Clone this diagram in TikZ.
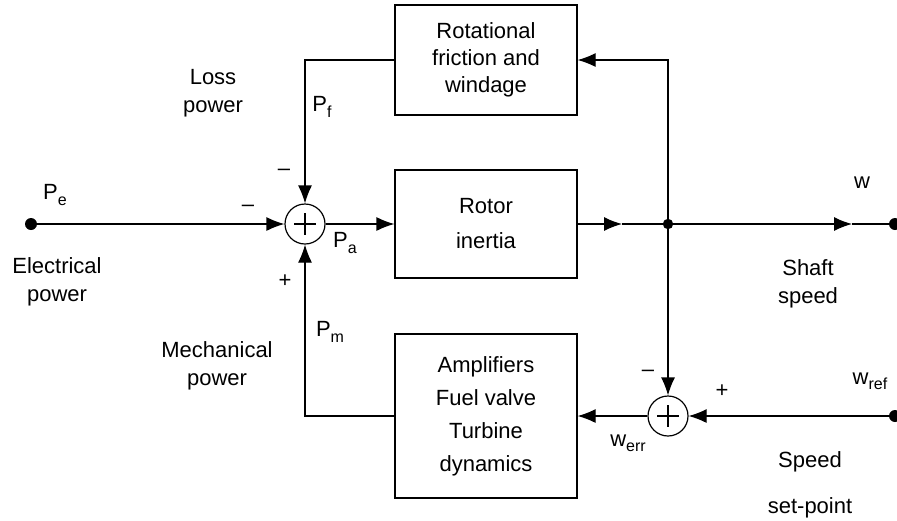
\documentclass[tikz,border=0pt]{standalone}
\usepackage{fontspec}
\setmainfont{Liberation Sans}
\usetikzlibrary{arrows.meta}
\newcommand{\sig}[2]{#1\raisebox{-0.45ex}{\fontsize{8}{8}\selectfont #2}}

\begin{document}
\begin{tikzpicture}[x=0.5pt,y=-0.5pt,font=\fontsize{11}{14}\selectfont,
  blockbox/.style={draw,line width=0.6pt,minimum width=91pt,align=center,inner sep=0pt},
  sumnode/.style={draw,circle,line width=0.6pt,minimum size=20pt,inner sep=0pt},
  flow/.style={line width=0.6pt,-{Latex[length=9pt,width=7pt]}},
  wire/.style={line width=0.6pt},
  lbl/.style={inner sep=0pt,align=center}]
\useasboundingbox (0,0) rectangle (897,520);

\coordinate (Pe) at (31,224);
\coordinate (A1) at (622,224);
\coordinate (B) at (668,224);
\coordinate (A2) at (852,224);
\coordinate (W) at (895,224);
\coordinate (Wref) at (895,416);

\node [sumnode] (S1) at (305,224) {};
\node [sumnode] (S2) at (668,416) {};
\node [blockbox,minimum height=55pt,font=\fontsize{11}{13.5}\selectfont] (F) at (486,60) {Rotational\\friction and\\windage};
\node [blockbox,minimum height=54pt,font=\fontsize{11}{17.5}\selectfont] (R) at (486,224) {Rotor\\inertia};
\node [blockbox,minimum height=82pt,font=\fontsize{11}{16.5}\selectfont] (T) at (486,416) {Amplifiers\\Fuel valve\\Turbine\\dynamics};

\draw [wire] (S1.center) +(-11,0) -- +(11,0);
\draw [wire] (S1.center) +(0,-11) -- +(0,11);
\draw [wire] (S2.center) +(-11,0) -- +(11,0);
\draw [wire] (S2.center) +(0,-11) -- +(0,11);

\draw [flow] (Pe) to (S1);
\draw [flow] (S1) to (R);
\draw [flow] (R) to (A1);
\draw [wire] (A1) to (B);
\draw [flow] (B) to (A2);
\draw [wire] (A2) to (W);
\draw [flow] (B) |- (F.east);
\draw [flow] (F.west) -| (S1.north);
\draw [flow] (B) to (S2);
\draw [flow] (Wref) to (S2);
\draw [flow] (S2) to (T);
\draw [flow] (T.west) -| (S1.south);

\fill (Pe) circle [radius=3pt];
\fill (B) circle [radius=2.6pt];
\fill (W) circle [radius=3pt];
\fill (Wref) circle [radius=3pt];

\node [lbl] (loss) at (213,93) {Loss\\power};
\node [lbl] (pf) at (322,107) {\sig{P}{f}};
\node [lbl] (m1) at (284,172) {--};
\node [lbl] (pe) at (55,195) {\sig{P}{e}};
\node [lbl] (m2) at (248,208) {--};
\node [lbl] (pa) at (345,243) {\sig{P}{a}};
\node [lbl] (w) at (862,183) {w};
\node [lbl] (elec) at (57,282) {Electrical\\power};
\node [lbl] (p1) at (285,281) {+};
\node [lbl] (pm) at (330,332) {\sig{P}{m}};
\node [lbl] (mech) at (217,366) {Mechanical\\power};
\node [lbl] (shaft) at (808,284) {Shaft\\speed};
\node [lbl] (m3) at (648,373) {--};
\node [lbl] (p2) at (722,391) {+};
\node [lbl] (wref) at (870,381) {\sig{w}{ref}};
\node [lbl] (werr) at (628,443) {\sig{w}{err}};
\node [lbl] (speed) at (810,462) {Speed};
\node [lbl] (setp) at (810,508) {set-point};

\end{tikzpicture}
\end{document}
